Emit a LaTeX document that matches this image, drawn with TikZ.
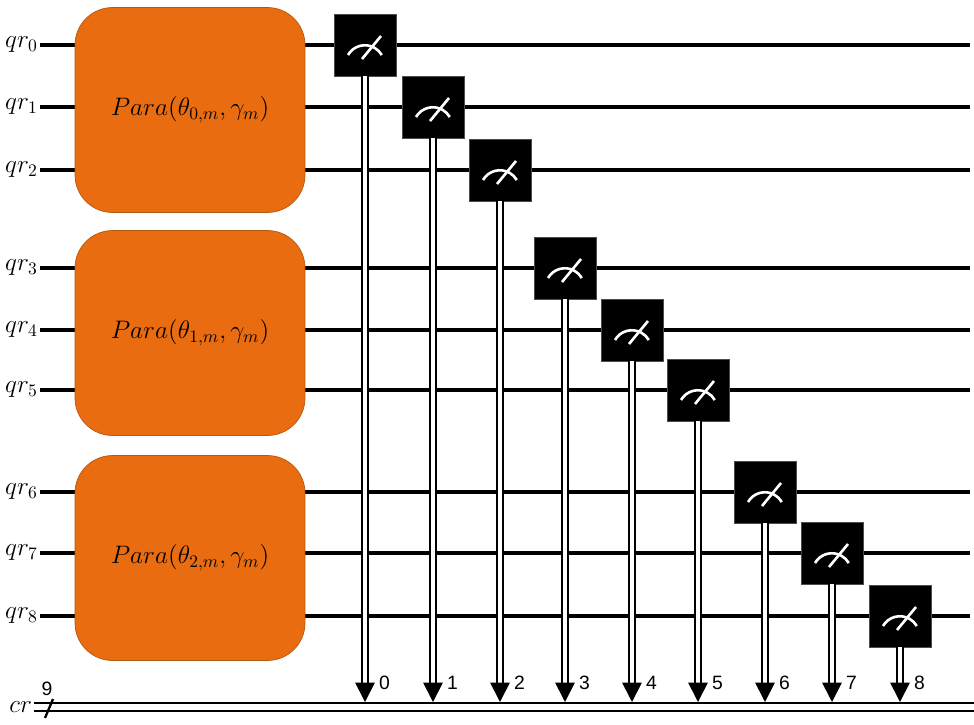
\documentclass[tikz,border=0pt]{standalone}
\usepackage{fontspec}
\newfontfamily\digitfont{Liberation Sans}
\usetikzlibrary{arrows.meta, positioning, calc}
\definecolor{paraorange}{HTML}{E96C10}
\definecolor{paraedge}{HTML}{B5580F}
\begin{document}
\begin{tikzpicture}[
		x=0.02cm, y=-0.02cm,
		font=\fontsize{14}{16}\selectfont,
		wire/.style={line width=2.4pt},
		para/.style={draw=paraedge, fill=paraorange, rounded corners=0.75cm, minimum width=4.6cm, minimum height=4.1cm, inner sep=0pt},
		meter/.style={fill=black, draw=black!70, minimum size=1.24cm, inner sep=0pt},
		cbit/.style={double distance=2.2pt, line width=1pt, -{Triangle[width=11pt,length=11pt]}},
		idx/.style={font=\digitfont\fontsize{11}{13}\selectfont, anchor=west}
		]
		\useasboundingbox (0,0) rectangle (974,724);
		
		% Qubit wires
		\foreach \i/\y in {0/45,1/107,2/170,3/268,4/330,5/390,6/492,7/553,8/616} {
			\node[anchor=east, inner sep=1pt] (q\i) at (40,\y) {$qr_{\i}$};
			\draw[wire] (q\i.east) -- (970,\y);
		}
		
		% Classical register
		\node[anchor=east, inner sep=1pt] (cr) at (34,707) {$cr$};
		\draw[line width=1.6pt] (cr.east |- 0,703) -- (974,703);
		\draw[line width=1.6pt] (cr.east |- 0,711) -- (974,711);
		\draw[line width=1.3pt] (53,699) -- (45,718);
		\node[idx, anchor=south] (nine) at (47,702) {9};
		
		% Parameterised blocks
		\node[para] (p0) at (190,110) {$Para(\theta_{0,m},\gamma_m)$};
		\node[para] (p1) at (190,333) {$Para(\theta_{1,m},\gamma_m)$};
		\node[para] (p2) at (190,558) {$Para(\theta_{2,m},\gamma_m)$};
		
		% Measurements
		\foreach \i/\x/\y in {0/365/45,1/433/107,2/500/170,3/565/268,4/632/330,5/698/390,6/765/492,7/832/553,8/900/616} {
			\node[meter] (m\i) at (\x,\y) {};
			\draw[white, line width=1.5pt] ($(m\i.center)+(-17,10)$) arc[start angle=150, end angle=30, radius=0.39cm];
			\draw[white, line width=1.5pt] ($(m\i.center)+(-3,14)$) -- ($(m\i.center)+(16,-9)$);
			\coordinate (c\i) at (\x,702);
			\draw[cbit] (m\i.south) -- (c\i);
			\node[idx] (n\i) at (\x+8,683) {\i};
		}
		
	\end{tikzpicture}
\end{document}
